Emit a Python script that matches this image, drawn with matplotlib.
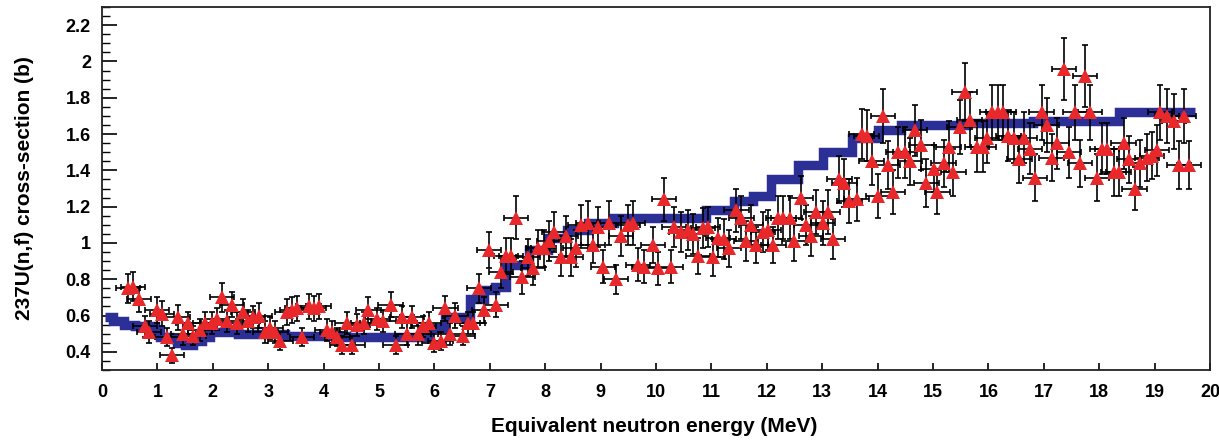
import matplotlib
matplotlib.use("Agg")
import matplotlib.pyplot as plt
from matplotlib.ticker import MultipleLocator, FixedLocator, FuncFormatter

# ---------------- data ----------------
# Measured 237U(n,f) cross-section (red triangles)
energy = [
    0.47, 0.56, 0.67, 0.78, 0.85, 0.99, 1.08, 1.17, 1.26, 1.37,
    1.47, 1.56, 1.65, 1.77, 1.86, 1.99, 2.08, 2.17, 2.26, 2.35,
    2.44, 2.55, 2.64, 2.73, 2.84, 2.95, 3.04, 3.13, 3.22, 3.34,
    3.43, 3.52, 3.61, 3.73, 3.82, 3.91, 4.07, 4.16, 4.25, 4.34,
    4.43, 4.52, 4.61, 4.72, 4.81, 4.97, 5.08, 5.21, 5.30, 5.42,
    5.51, 5.60, 5.71, 5.80, 5.90, 5.99, 6.11, 6.20, 6.29, 6.38,
    6.51, 6.60, 6.69, 6.80, 6.89, 6.98, 7.11, 7.20, 7.29, 7.38,
    7.47, 7.59, 7.69, 7.78, 7.87, 7.97, 8.07, 8.16, 8.28, 8.37,
    8.46, 8.55, 8.64, 8.77, 8.86, 8.95, 9.04, 9.15, 9.28, 9.37,
    9.49, 9.58, 9.67, 9.78, 9.95, 10.04, 10.14, 10.27, 10.33, 10.45,
    10.58, 10.67, 10.76, 10.85, 10.94, 11.03, 11.12, 11.23, 11.32, 11.45,
    11.54, 11.63, 11.72, 11.81, 11.93, 12.03, 12.12, 12.21, 12.30, 12.41,
    12.50, 12.62, 12.71, 12.80, 12.89, 13.02, 13.11, 13.20, 13.31, 13.40,
    13.49, 13.62, 13.71, 13.80, 13.89, 14.01, 14.10, 14.19, 14.28, 14.37,
    14.49, 14.58, 14.67, 14.79, 14.88, 15.01, 15.08, 15.19, 15.28, 15.37,
    15.48, 15.57, 15.66, 15.79, 15.91, 15.97, 16.06, 16.18, 16.27, 16.36,
    16.46, 16.56, 16.65, 16.75, 16.84, 16.96, 17.05, 17.14, 17.23, 17.36,
    17.45, 17.56, 17.65, 17.74, 17.83, 17.96, 18.05, 18.14, 18.26, 18.35,
    18.44, 18.54, 18.64, 18.73, 18.86, 18.95, 19.04, 19.10, 19.22, 19.35,
    19.44, 19.53, 19.62,
]
xsec = [
    0.75, 0.76, 0.69, 0.54, 0.51, 0.63, 0.61, 0.48, 0.38, 0.59,
    0.50, 0.56, 0.49, 0.52, 0.56, 0.56, 0.58, 0.70, 0.57, 0.66,
    0.56, 0.62, 0.57, 0.59, 0.60, 0.51, 0.53, 0.51, 0.46, 0.62,
    0.63, 0.64, 0.48, 0.65, 0.64, 0.65, 0.52, 0.51, 0.48, 0.44,
    0.56, 0.44, 0.55, 0.56, 0.63, 0.58, 0.57, 0.66, 0.44, 0.59,
    0.50, 0.59, 0.50, 0.54, 0.56, 0.45, 0.46, 0.64, 0.50, 0.60,
    0.49, 0.56, 0.56, 0.75, 0.63, 0.96, 0.66, 0.84, 0.93, 0.93,
    1.14, 0.81, 0.92, 0.86, 0.97, 0.97, 1.01, 1.06, 0.92, 1.04,
    0.92, 0.97, 1.10, 1.11, 0.99, 1.09, 0.87, 1.11, 0.80, 1.04,
    1.10, 1.11, 0.88, 0.87, 0.99, 0.86, 1.24, 0.87, 1.09, 1.06,
    1.07, 1.05, 0.93, 1.08, 1.09, 0.92, 1.03, 1.02, 0.97, 1.18,
    1.14, 1.01, 1.10, 0.99, 1.06, 1.07, 0.99, 1.14, 1.14, 1.14,
    1.01, 1.25, 1.10, 1.04, 1.17, 1.11, 1.17, 1.02, 1.35, 1.33,
    1.23, 1.24, 1.60, 1.59, 1.45, 1.26, 1.70, 1.43, 1.28, 1.50,
    1.50, 1.45, 1.62, 1.54, 1.33, 1.41, 1.28, 1.44, 1.53, 1.39,
    1.64, 1.83, 1.68, 1.53, 1.53, 1.58, 1.72, 1.72, 1.72, 1.59,
    1.58, 1.46, 1.58, 1.52, 1.36, 1.72, 1.65, 1.47, 1.55, 1.96,
    1.50, 1.72, 1.44, 1.92, 1.72, 1.36, 1.52, 1.52, 1.39, 1.39,
    1.55, 1.46, 1.30, 1.44, 1.47, 1.48, 1.51, 1.72, 1.70, 1.67,
    1.43, 1.70, 1.43,
]
xsec_err = [
    0.08, 0.08, 0.07, 0.06, 0.06, 0.07, 0.07, 0.05, 0.04, 0.07,
    0.06, 0.06, 0.05, 0.06, 0.06, 0.06, 0.06, 0.08, 0.06, 0.07,
    0.06, 0.07, 0.06, 0.06, 0.07, 0.06, 0.06, 0.06, 0.05, 0.07,
    0.07, 0.07, 0.05, 0.07, 0.07, 0.07, 0.06, 0.06, 0.05, 0.05,
    0.06, 0.05, 0.06, 0.06, 0.07, 0.06, 0.06, 0.07, 0.05, 0.06,
    0.06, 0.06, 0.06, 0.06, 0.06, 0.05, 0.05, 0.07, 0.06, 0.07,
    0.05, 0.06, 0.06, 0.08, 0.07, 0.10, 0.07, 0.09, 0.10, 0.10,
    0.12, 0.09, 0.10, 0.09, 0.10, 0.10, 0.11, 0.11, 0.10, 0.11,
    0.10, 0.10, 0.11, 0.12, 0.10, 0.11, 0.09, 0.12, 0.08, 0.11,
    0.11, 0.12, 0.09, 0.09, 0.10, 0.09, 0.12, 0.09, 0.11, 0.11,
    0.11, 0.11, 0.10, 0.11, 0.11, 0.10, 0.11, 0.11, 0.10, 0.12,
    0.12, 0.11, 0.11, 0.10, 0.11, 0.11, 0.10, 0.12, 0.12, 0.12,
    0.11, 0.12, 0.11, 0.11, 0.12, 0.12, 0.12, 0.11, 0.13, 0.13,
    0.12, 0.12, 0.14, 0.14, 0.13, 0.12, 0.15, 0.13, 0.12, 0.14,
    0.14, 0.13, 0.14, 0.14, 0.13, 0.13, 0.12, 0.13, 0.14, 0.13,
    0.15, 0.16, 0.15, 0.14, 0.14, 0.14, 0.15, 0.15, 0.15, 0.14,
    0.14, 0.13, 0.14, 0.14, 0.13, 0.15, 0.15, 0.13, 0.14, 0.17,
    0.14, 0.15, 0.13, 0.17, 0.15, 0.13, 0.14, 0.14, 0.13, 0.13,
    0.14, 0.13, 0.12, 0.13, 0.13, 0.13, 0.14, 0.15, 0.15, 0.15,
    0.13, 0.15, 0.13,
]
energy_halfwidth = 0.22

# Evaluated cross-section (blue band), step edges and levels
eval_energy = [0.05, 0.2, 0.4, 0.6, 0.8, 0.95, 1.05, 1.2, 1.35, 1.5,
               1.65, 1.8, 1.95, 2.2, 2.45, 2.8, 3.3, 3.8, 4.4, 5.0,
               5.6, 5.9, 6.2, 6.65, 6.9, 7.1, 7.3, 7.7, 8.05, 8.4,
               8.77, 9.25, 10.1, 10.9, 11.4, 11.75, 12.08, 12.57, 13.02, 13.53,
               14.01, 14.43, 15.15, 15.6, 16.8, 18.35, 19.73]
eval_xsec = [0.59, 0.57, 0.55, 0.54, 0.54, 0.52, 0.48, 0.47, 0.45, 0.44,
             0.46, 0.48, 0.51, 0.51, 0.50, 0.50, 0.49, 0.49, 0.48, 0.48,
             0.48, 0.53, 0.59, 0.69, 0.74, 0.76, 0.88, 0.96, 1.03, 1.07,
             1.11, 1.14, 1.14, 1.18, 1.23, 1.26, 1.35, 1.43, 1.50, 1.58,
             1.62, 1.65, 1.65, 1.66, 1.67, 1.72, 1.72]

assert len(energy) == len(xsec) == len(xsec_err)
assert len(eval_energy) == len(eval_xsec)

# ---------------- figure ----------------
plt.rcParams['font.family'] = ['Liberation Sans', 'DejaVu Sans']

fig = plt.figure(figsize=(12.19, 4.41), dpi=100)
ax = fig.add_axes([0.0837, 0.161, 0.9089, 0.823])

ax.plot(eval_energy, eval_xsec, drawstyle='steps-post', color='#2c3096',
        linewidth=6.8, solid_capstyle='butt', solid_joinstyle='miter', zorder=2)

ax.errorbar(energy, xsec, yerr=xsec_err, xerr=energy_halfwidth, fmt='none',
            ecolor='black', elinewidth=1.2, capsize=2.5, capthick=1.2, zorder=3)
ax.plot(energy, xsec, linestyle='none', marker='^', markersize=10,
        color='#e8282b', markeredgewidth=0, zorder=4)

ax.set_xlim(0, 20)
ax.set_ylim(0.3, 2.3)

ax.xaxis.set_major_locator(MultipleLocator(1))
ax.yaxis.set_major_locator(FixedLocator([0.4, 0.6, 0.8, 1.0, 1.2, 1.4, 1.6, 1.8, 2.0, 2.2]))
ax.yaxis.set_minor_locator(MultipleLocator(0.05))
ax.yaxis.set_major_formatter(FuncFormatter(lambda v, p: ('%g' % round(v, 2))))

ax.tick_params(axis='y', which='major', direction='in', length=11, width=1.2,
               labelsize=13, pad=8, right=False)
ax.tick_params(axis='y', which='minor', direction='in', length=6, width=1.0, right=False)
ax.tick_params(axis='x', which='major', direction='in', length=5, width=1.2,
               labelsize=13, pad=10, top=False)
for lbl in ax.get_xticklabels() + ax.get_yticklabels():
    lbl.set_fontweight('bold')

for s in ax.spines.values():
    s.set_linewidth(1.3)
    s.set_color('#222222')

ax.set_xlabel('Equivalent neutron energy (MeV)', fontsize=15, fontweight='bold',
              va='center')
ax.xaxis.set_label_coords(0.498, -0.155)
ax.set_ylabel('237U(n,f) cross-section (b)', fontsize=15, fontweight='bold')
ax.yaxis.set_label_coords(-0.061, 0.50)

fig.savefig('out.png', dpi=100)
